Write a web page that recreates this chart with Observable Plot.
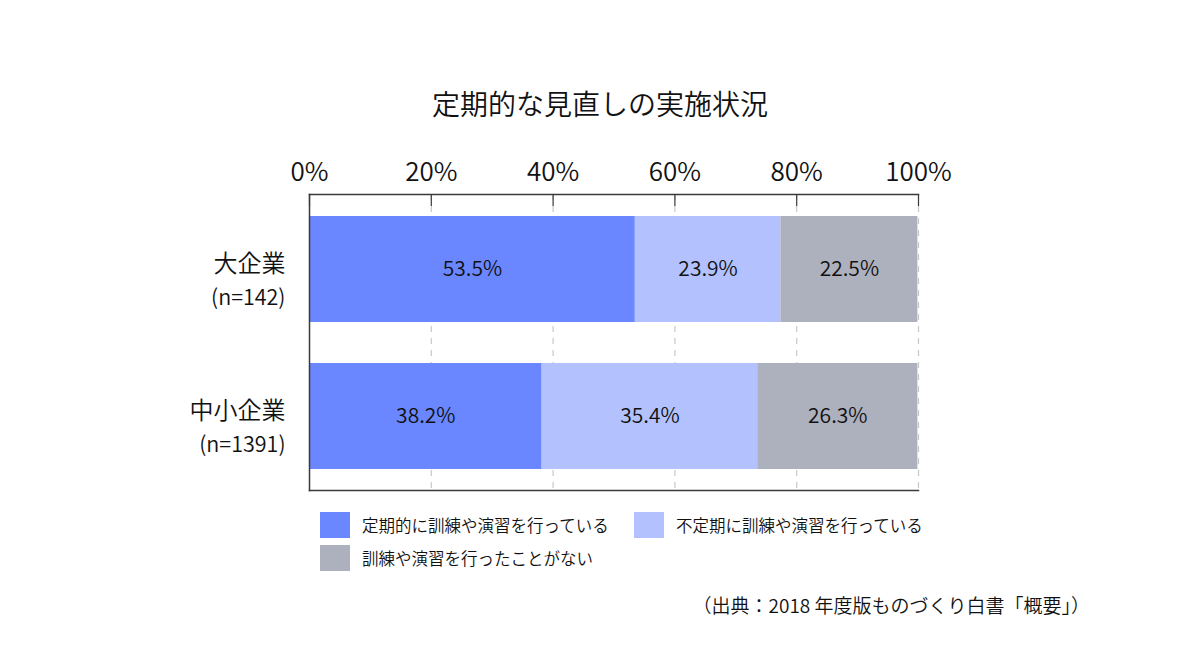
<!DOCTYPE html>
<html><head><meta charset="utf-8">
<script src="https://cdn.jsdelivr.net/npm/d3@7"></script>
<script src="https://cdn.jsdelivr.net/npm/@observablehq/plot@0.6"></script>
<style>
html,body{margin:0;padding:0;background:#fff;}
body{font-family:"Noto Sans CJK JP","Noto Sans",sans-serif;color:#111;font-weight:350;}
#wrap{position:relative;width:1200px;height:664px;overflow:hidden;}
#chart{position:absolute;left:0;top:0;}
.title{position:absolute;left:0;width:1200px;top:84px;text-align:center;font-size:28px;line-height:38px;}
.leg{position:absolute;font-size:16.5px;line-height:26px;display:flex;align-items:center;white-space:nowrap;}
.sw{width:30px;height:26px;margin-right:12px;}
.cap{position:absolute;right:110px;top:592px;font-size:19px;line-height:26px;white-space:nowrap;}
</style></head>
<body>
<div id="wrap">
  <div id="chart"></div>
  <div class="title" id="title"></div>
  <div id="legend"></div>
  <div class="cap" id="cap"></div>
</div>
<script>
const titleText = "定期的な見直しの実施状況";
const captionText = "（出典：2018 年度版ものづくり白書「概要」）";
const categories = ["大企業", "中小企業"];
const sampleLabels = ["(n=142)", "(n=1391)"];
const seriesNames = ["定期的に訓練や演習を行っている", "不定期に訓練や演習を行っている", "訓練や演習を行ったことがない"];
const seriesColors = ["#6a87ff", "#b3c2ff", "#adb0bd"];
const valuesLarge = [53.5, 23.9, 22.5];
const valuesSmall = [38.2, 35.4, 26.3];
const xTicks = [0, 20, 40, 60, 80, 100];

const seriesValues = [valuesLarge, valuesSmall];
const data = [];
categories.forEach((c, i) => seriesNames.forEach((s, j) => data.push({cat: c, series: s, value: seriesValues[i][j]})));
const catRows = categories.map((c, i) => ({cat: c, n: sampleLabels[i]}));

const font = "Noto Sans CJK JP";
const axisColor = "#3a3a3a";

const chart = Plot.plot({
  width: 1200, height: 664,
  marginLeft: 309, marginRight: 282, marginTop: 194, marginBottom: 174,
  style: {fontFamily: font, fontWeight: 350, color: "#111", background: "transparent"},
  x: {domain: [0, 100], axis: null, label: null},
  y: {domain: categories, paddingInner: 0.279, paddingOuter: 0.146, axis: null, label: null},
  color: {domain: seriesNames, range: seriesColors},
  marks: [
    Plot.ruleX(xTicks.slice(1), {stroke: "#c8c8c8", strokeDasharray: "6,6", strokeWidth: 1.2}),
    Plot.barX(data, Plot.stackX({x: "value", y: "cat", z: "series", fill: "series", order: seriesNames})),
    Plot.textX(data, Plot.stackX({x: "value", y: "cat", z: "series", order: seriesNames, text: d => d.value.toFixed(1) + "%", fontSize: 21, fill: "#111"})),
    Plot.ruleX(xTicks, {stroke: axisColor, strokeWidth: 1.2, insetBottom: 284}),
    Plot.frame({anchor: "top", stroke: axisColor, strokeWidth: 1.5}),
    Plot.frame({anchor: "bottom", stroke: axisColor, strokeWidth: 1.5}),
    Plot.frame({anchor: "left", stroke: axisColor, strokeWidth: 1.5}),
    Plot.axisX({anchor: "top", ticks: xTicks, tickSize: 0, tickPadding: 14, label: null, tickFormat: d => d + "%", fontSize: 26, fill: "#111"}),
    Plot.text(catRows, {y: "cat", text: "cat", frameAnchor: "left", textAnchor: "end", dx: -24, dy: -5, fontSize: 24, fill: "#111"}),
    Plot.text(catRows, {y: "cat", text: "n", frameAnchor: "left", textAnchor: "end", dx: -24, dy: 29, fontSize: 21.5, fill: "#111"})
  ]
});
document.getElementById("chart").appendChild(chart);
document.getElementById("title").textContent = titleText;
document.getElementById("cap").textContent = captionText;

const legPos = [[320, 512], [634, 512], [320, 545]];
const leg = document.getElementById("legend");
seriesNames.forEach((s, i) => {
  const d = document.createElement("div");
  d.className = "leg";
  d.style.left = legPos[i][0] + "px";
  d.style.top = legPos[i][1] + "px";
  const sw = document.createElement("div");
  sw.className = "sw";
  sw.style.background = seriesColors[i];
  const t = document.createElement("span");
  t.textContent = s;
  d.appendChild(sw); d.appendChild(t);
  leg.appendChild(d);
});
</script>
</body></html>
